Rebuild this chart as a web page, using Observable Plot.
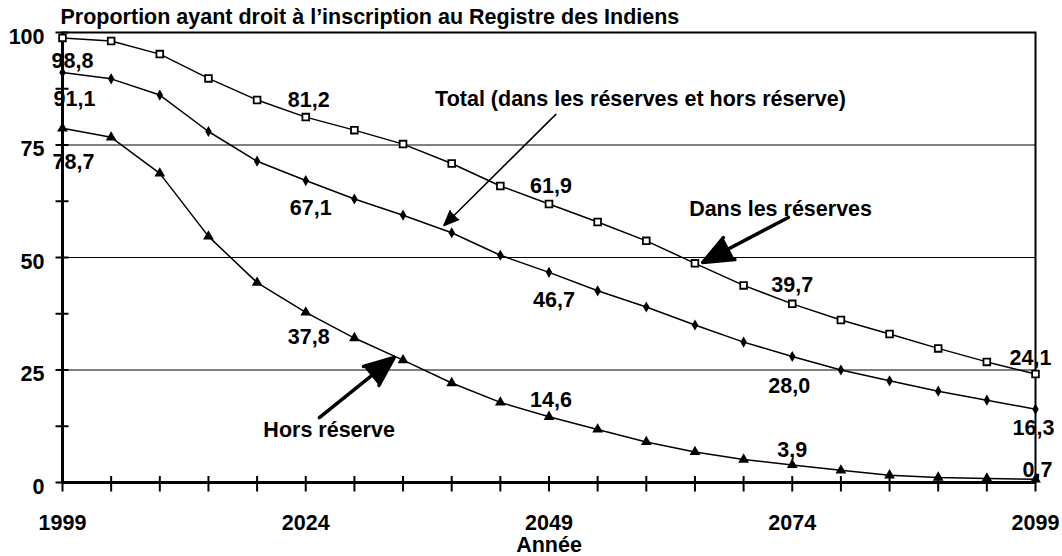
<!DOCTYPE html>
<html>
<head>
<meta charset="utf-8">
<script src="https://cdn.jsdelivr.net/npm/d3@7"></script>
<script src="https://cdn.jsdelivr.net/npm/@observablehq/plot@0.6"></script>
<style>
  html, body { margin: 0; padding: 0; background: #fff; }
  svg text { font-weight: bold; }
</style>
</head>
<body>
<div id="chart"></div>
<script>
// ---------- data ----------
const years = [1999, 2004, 2009, 2014, 2019, 2024, 2029, 2034, 2039, 2044, 2049,
               2054, 2059, 2064, 2069, 2074, 2079, 2084, 2089, 2094, 2099];
const dansReserves = [98.8, 98.1, 95.2, 89.8, 85.0, 81.2, 78.3, 75.2, 70.9, 65.9, 61.9,
                      57.9, 53.7, 48.7, 43.8, 39.7, 36.1, 33.0, 29.8, 26.8, 24.1];
const total = [91.1, 89.7, 86.1, 78.0, 71.4, 67.1, 63.0, 59.4, 55.5, 50.5, 46.7,
               42.6, 39.0, 35.0, 31.2, 28.0, 25.0, 22.6, 20.3, 18.3, 16.3];
const horsReserve = [78.7, 76.7, 68.7, 54.7, 44.4, 37.8, 32.1, 27.2, 22.1, 17.8, 14.6,
                     11.8, 9.0, 6.8, 5.1, 3.9, 2.7, 1.6, 1.1, 0.9, 0.7];
const labelledYears = [1999, 2024, 2049, 2074, 2099];
const yTickLabels = [0, 25, 50, 75, 100];
const yMinorTicks = [0, 12.5, 25, 37.5, 50, 62.5, 75, 87.5, 100];
const gridValues = [25, 50, 75];
const titleText = "Proportion ayant droit à l’inscription au Registre des Indiens";
const xTitle = "Année";

// ---------- layout (offsets of value labels, in pixels) ----------
const labelOffsets = {
  dans:  {1999: [10, 23], 2024: [3, -17], 2049: [2, -18], 2074: [0, -19], 2099: [-5, -16]},
  total: {1999: [12, 27], 2024: [5, 28],  2049: [5, 28],  2074: [-3, 30], 2099: [-2, 19]},
  hors:  {1999: [11, 34], 2024: [3, 25],  2049: [2, -17], 2074: [0, -15], 2099: [2, -9]}
};

// annotation texts and arrows (placed in data space)
const annotations = [
  {text: "Total (dans les réserves et hors réserve)", x: 2058.4, y: 85.1},
  {text: "Dans les réserves", x: 2072.8, y: 60.7},
  {text: "Hors réserve", x: 2026.4, y: 11.6}
];
const arrows = [
  {x1: 2049.7, y1: 81.8, x2: 2038.2, y2: 57.1, w: 1.5, head: 16},
  {x1: 2073.6, y1: 58.9, x2: 2064.8, y2: 48.9, w: 3.5, head: 17},
  {x1: 2025.4, y1: 14.4, x2: 2033.1, y2: 27.8, w: 3.5, head: 17}
];

// ---------- build ----------
const series = [
  {key: "dans", values: dansReserves, symbol: "square", r: 3.8, fill: "white", strokeWidth: 1.8},
  {key: "total", values: total, symbol: "diamond", r: 3.4, fill: "black", strokeWidth: 0},
  {key: "hors", values: horsReserve, symbol: "triangle", r: 4, fill: "black", strokeWidth: 0}
];
const rows = series.map(s => years.map((yr, i) => ({year: yr, value: s.values[i], key: s.key})));

const FONT = "Liberation Sans, Arial, Helvetica, sans-serif";
const FS = 21.5;
const fmt = v => v.toFixed(1).replace(".", ",");

const labelMarks = [];
series.forEach((s, si) => {
  labelledYears.forEach(yr => {
    const i = years.indexOf(yr);
    const [dx, dy] = labelOffsets[s.key][yr];
    labelMarks.push(Plot.text([{year: yr, value: s.values[i]}], {
      x: "year", y: "value", text: d => fmt(d.value),
      dx, dy, fontSize: FS, fontWeight: "bold", fill: "black", textAnchor: "middle"
    }));
  });
});

const chart = Plot.plot({
  width: 1062,
  height: 556,
  marginLeft: 62,
  marginRight: 27,
  marginTop: 32,
  marginBottom: 74,
  style: {fontFamily: FONT, fontWeight: "bold", fontSize: FS + "px", background: "white", overflow: "visible", color: "black"},
  x: {domain: [1999, 2099], label: null},
  y: {domain: [0, 100], label: null},
  marks: [
    Plot.ruleY(gridValues, {stroke: "black", strokeWidth: 1}),
    Plot.frame({stroke: "black", strokeWidth: 2}),
    Plot.ruleX([1999], {stroke: "black", strokeWidth: 3}),
    Plot.ruleY([0], {stroke: "black", strokeWidth: 3}),
    // crossing ticks
    Plot.axisY(yMinorTicks, {tickSize: 13, dx: 6.5, tickFormat: () => "", strokeWidth: 2, label: null}),
    Plot.axisX(years, {tickSize: 15.5, dy: -6, tickFormat: () => "", strokeWidth: 2, label: null}),
    // tick labels
    Plot.axisY(yTickLabels, {tickSize: 0, tickPadding: 18, dy: 4.5, fontSize: FS, fontWeight: "bold",
      tickFormat: d => String(d), label: null}),
    Plot.axisX(labelledYears, {tickSize: 0, tickPadding: 32, fontSize: FS, fontWeight: "bold",
      tickFormat: d => String(d), label: null}),
    // series
    ...rows.map(r => Plot.line(r, {x: "year", y: "value", stroke: "black", strokeWidth: 1.5})),
    ...series.map((s, si) => Plot.dot(rows[si], {
      x: "year", y: "value", symbol: s.symbol, r: s.r, fill: s.fill,
      stroke: "black", strokeWidth: s.strokeWidth
    })),
    ...labelMarks,
    // annotations
    Plot.text(annotations, {x: "x", y: "y", text: "text", fontSize: FS, fontWeight: "bold",
      fill: "black", textAnchor: "middle"}),
    ...arrows.map(a => Plot.arrow([a], {x1: "x1", y1: "y1", x2: "x2", y2: "y2",
      stroke: "black", fill: "black", strokeWidth: a.w, headLength: a.head, headAngle: 45})),
    // title and axis title
    Plot.text([titleText], {frameAnchor: "top-left", lineAnchor: "middle", dx: -2, dy: -15.5,
      textAnchor: "start", fontSize: FS, fontWeight: "bold", fill: "black"}),
    Plot.text([xTitle], {frameAnchor: "bottom", lineAnchor: "middle", dy: 63, textAnchor: "middle",
      fontSize: FS, fontWeight: "bold", fill: "black"})
  ]
});
document.getElementById("chart").appendChild(chart);
</script>
</body>
</html>
